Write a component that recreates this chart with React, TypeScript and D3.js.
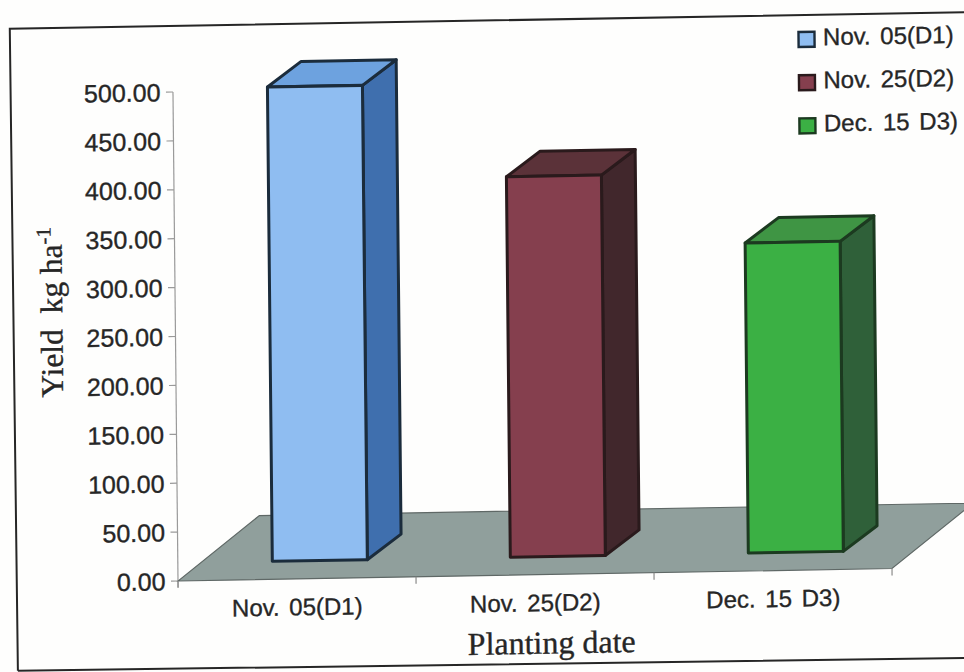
import React from "react";
import * as d3 from "d3";

// Yield by planting date
const categories = ["Nov. 05(D1)", "Nov. 25(D2)", "Dec. 15 D3)"];
const yieldValues = [485, 389, 317];
const axisTicks = [0, 50, 100, 150, 200, 250, 300, 350, 400, 450, 500];
const frontColors = ["#8fbdf1", "#853f4e", "#3bb044"];
const topColors = ["#6da2df", "#5b3239", "#3f9544"];
const sideColors = ["#3f6fae", "#41272c", "#2f6039"];
const edgeColors = ["#1b2c3c", "#2a1a1c", "#1c3a20"];

const SANS = "'Liberation Sans', Arial, sans-serif";
const SERIF = "'Liberation Serif', 'Times New Roman', serif";
const INK = "#262626";

// Plot geometry: the floor is a parallelogram receding up and to the right.
const plotLeft = 178;
const plotRight = 892;
const plotBottom = 581;
const plotTop = 92;
const floorDepth = { dx: 82, dy: -64 };
const barGap = { dx: 23, dy: -18 };
const barDepth = { dx: 34, dy: -25 };
const barWidth = 95;

const y = d3.scaleLinear().domain([0, 500]).range([plotBottom, plotTop]);
const x = d3.scaleBand().domain(categories).range([plotLeft, plotRight]);

const polygon = (pts: [number, number][]) => d3.line()(pts) + "Z";

// Labels carry a hairline outline so they read with the weight of printed type.
const labelInk = { fill: INK, stroke: INK, strokeWidth: 0.35 };

export default function App() {
  const floor = polygon([
    [plotLeft, plotBottom],
    [plotRight, plotBottom],
    [plotRight + floorDepth.dx, plotBottom + floorDepth.dy],
    [plotLeft + floorDepth.dx, plotBottom + floorDepth.dy],
  ]);
  const boundaries = [plotLeft, ...categories.map((c) => (x(c) as number) + x.bandwidth())];

  return (
    <svg
      width={964}
      height={672}
      style={{ position: "absolute", left: 0, top: 0, background: "#fefefd" }}
    >
      <g transform="matrix(1,-0.0175,0.0103,1,-5.98,3.115)">
        <path
          d="M17,668 L15.5,26 L1010,26 M17,668 L1010,672"
          fill="none"
          stroke={INK}
          strokeWidth={2}
        />

        {/* value axis */}
        <line x1={plotLeft} x2={plotLeft} y1={plotTop} y2={plotBottom + 6} stroke="#9a9a9a" strokeWidth={1.2} />
        {axisTicks.map((t) => (
          <g key={t}>
            <line x1={plotLeft - 7} x2={plotLeft} y1={y(t)} y2={y(t)} stroke="#9a9a9a" strokeWidth={1.2} />
            <text
              x={plotLeft - 12.5}
              y={y(t)}
              dy="0.36em"
              textAnchor="end"
              fontFamily={SANS}
              fontSize={25}
              {...labelInk}
            >
              {t.toFixed(2)}
            </text>
          </g>
        ))}

        {/* floor and category ticks */}
        <path d={floor} fill="#909f9c" stroke="#5f6866" strokeWidth={1.2} />
        {boundaries.map((b) => (
          <line key={b} x1={b} x2={b} y1={plotBottom} y2={plotBottom + 7} stroke="#8a8a8a" strokeWidth={1.2} />
        ))}

        {/* bars: front, top and side faces */}
        {categories.map((c, i) => {
          const left = (x(c) as number) + x.bandwidth() / 2 - barWidth / 2 + barGap.dx;
          const right = left + barWidth;
          const base = plotBottom + barGap.dy;
          const top = base - (plotBottom - y(yieldValues[i]));
          const { dx, dy } = barDepth;
          const common = { stroke: edgeColors[i], strokeWidth: 3, strokeLinejoin: "round" as const };
          return (
            <g key={c}>
              <path
                d={polygon([[right, top], [right + dx, top + dy], [right + dx, base + dy], [right, base]])}
                fill={sideColors[i]}
                {...common}
              />
              <path
                d={polygon([[left, top], [left + dx, top + dy], [right + dx, top + dy], [right, top]])}
                fill={topColors[i]}
                {...common}
              />
              <rect x={left} y={top} width={barWidth} height={base - top} fill={frontColors[i]} {...common} />
            </g>
          );
        })}

        {/* category labels */}
        {categories.map((c) => (
          <text
            key={c}
            x={(x(c) as number) + x.bandwidth() / 2}
            y={617.5}
            textAnchor="middle"
            fontFamily={SANS}
            fontSize={24}
            wordSpacing={3}
            {...labelInk}
          >
            {c}
          </text>
        ))}

        {/* axis titles */}
        <text x={551} y={660} textAnchor="middle" fontFamily={SERIF} fontSize={32} {...labelInk}>
          Planting date
        </text>
        <text
          transform="translate(65,310) rotate(-90)"
          textAnchor="middle"
          fontFamily={SERIF}
          fontSize={31.5}
          style={{ whiteSpace: "pre" }}
          {...labelInk}
        >
          Yield  kg ha
          <tspan dy={-11} fontSize={21}>-1</tspan>
        </text>

        {/* legend */}
        {categories.map((c, i) => (
          <g key={c} transform={`translate(804,${43 + i * 43.2})`}>
            <rect width={16} height={15} fill={frontColors[i]} stroke={edgeColors[i]} strokeWidth={2.4} />
            <text x={24.5} y={13.5} fontFamily={SANS} fontSize={24} wordSpacing={3} {...labelInk}>
              {c}
            </text>
          </g>
        ))}
      </g>
    </svg>
  );
}
